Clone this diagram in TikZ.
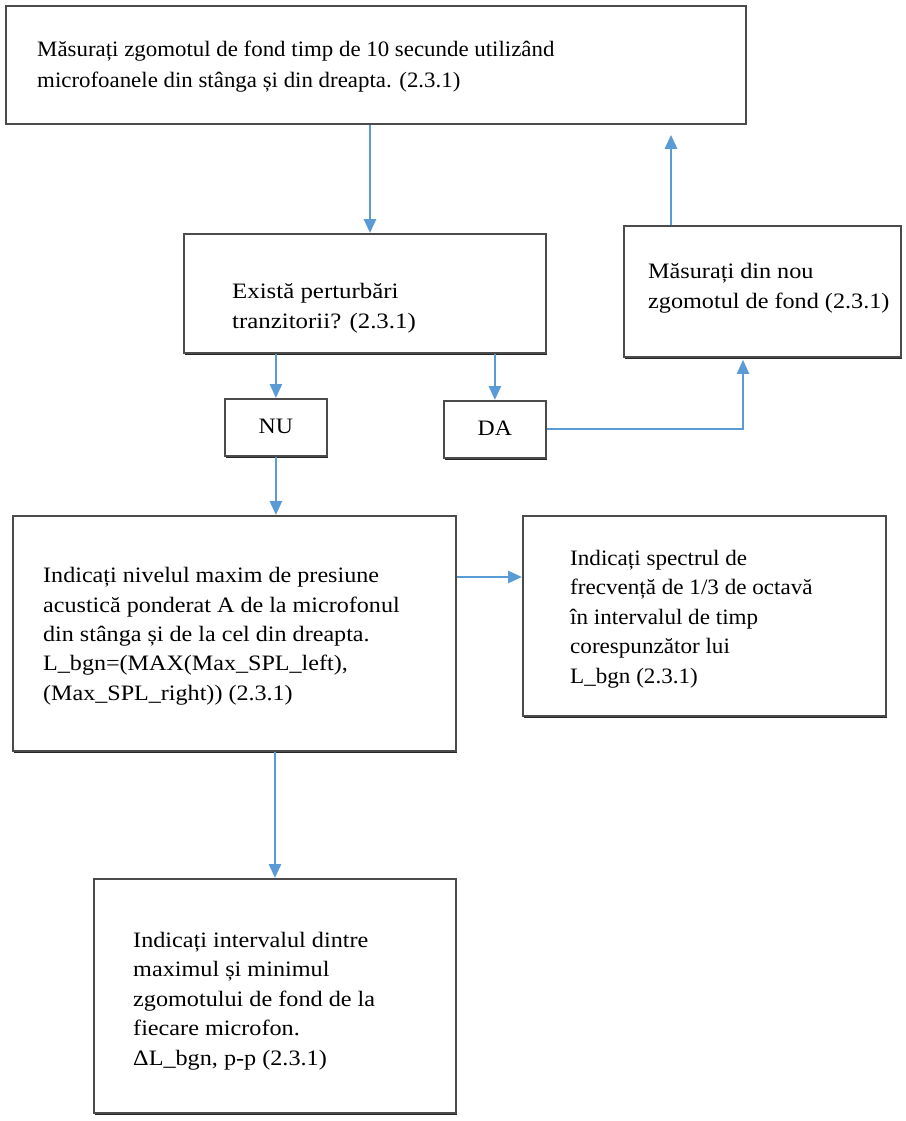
\documentclass[tikz,border=0pt]{standalone}
\usepackage{fontspec}
\setmainfont{Liberation Serif}
\usetikzlibrary{arrows.meta,shadows}
\definecolor{flowblue}{RGB}{91,155,213}
\definecolor{boxline}{RGB}{75,75,75}
\tikzset{
  box/.style={draw=boxline, line width=1.8pt, fill=white, inner sep=0pt, anchor=north west,
    drop shadow={shadow xshift=0.6pt, shadow yshift=-1.6pt, fill=black!85, opacity=1}},
  txt/.style={anchor=base west, align=left, inner sep=0pt},
  lbl/.style={inner sep=0pt, font=\fontsize{22}{25}\selectfont\addfontfeatures{FakeStretch=1.08}},
  flow/.style={draw=flowblue, line width=2.6pt, -{Triangle[length=14pt,width=12pt]}},
}
\newcommand{\fs}[2]{\fontsize{22}{#1}\selectfont\addfontfeatures{FakeStretch=#2}}
\begin{document}
\begin{tikzpicture}[x=1pt,y=-1pt]
\useasboundingbox (0,0) rectangle (905,1121);
\fill[white] (0,0) rectangle (905,1121);

% boxes
\node[box, minimum width=740pt, minimum height=118pt] (b1) at (5,5) {};
\node[box, minimum width=362pt, minimum height=119pt] (b2) at (183,233) {};
\node[box, minimum width=277pt, minimum height=131pt] (b3) at (623,225) {};
\node[box, minimum width=102pt, minimum height=57pt] (nu) at (224,398) {};
\node[box, minimum width=102pt, minimum height=57pt] (da) at (443,400) {};
\node[box, minimum width=443pt, minimum height=235pt] (b4) at (12,515) {};
\node[box, minimum width=363pt, minimum height=200pt] (b5) at (522,515) {};
\node[box, minimum width=362pt, minimum height=234pt] (b6) at (93,878) {};

% texts (anchor = baseline of last line)
\node[txt, font=\fs{31}{1.04}] (t1) at (37,88) {Măsurați zgomotul de fond timp de 10 secunde utilizând\\microfoanele din stânga și din dreapta. (2.3.1)};
\node[txt, font=\fs{30}{1.13}] (t2) at (232,328) {Există perturbări\\tranzitorii? (2.3.1)};
\node[txt, font=\fs{30}{1.10}] (t3) at (648,308) {Măsurați din nou\\zgomotul de fond (2.3.1)};
\node[lbl] (tnu) at ([yshift=1pt]nu.center) {NU};
\node[lbl] (tda) at ([yshift=1pt]da.center) {DA};
\node[txt, font=\fs{29.3}{1.095}] (t4) at (43,700) {Indicați nivelul maxim de presiune\\acustică ponderat A de la microfonul\\din stânga și de la cel din dreapta.\\L\_bgn=(MAX(Max\_SPL\_left),\\(Max\_SPL\_right)) (2.3.1)};
\node[txt, font=\fs{29.5}{1.05}] (t5) at (570,683) {Indicați spectrul de\\frecvență de 1/3 de octavă\\în intervalul de timp\\corespunzător lui\\L\_bgn (2.3.1)};
\node[txt, font=\fs{29.5}{1.10}] (t6) at (133,1065) {Indicați intervalul dintre\\maximul și minimul\\zgomotului de fond de la\\fiecare microfon.\\ΔL\_bgn, p-p (2.3.1)};

% helper coordinates
\coordinate (x370) at (370,0);
\coordinate (x743) at (743,0);
\coordinate (x671) at (671,0);
\coordinate (x275) at (275,0);
\coordinate (y577) at (0,577);

% connectors
\draw[flow] (b1.south -| x370) -- (b2.north -| x370);
\draw[flow] (b2.south -| nu.north) -- (nu.north);
\draw[flow] (b2.south -| da.north) -- (da.north);
\draw[flow, line width=2pt] (da.east) -| ([yshift=-2pt]b3.south -| x743);
\draw[flow] (b3.north -| x671) -- ([yshift=-10pt]b1.south -| x671);
\draw[flow] (nu.south) -- (b4.north -| nu.south);
\draw[flow] (b4.east |- y577) -- (b5.west |- y577);
\draw[flow] (b4.south -| x275) -- (b6.north -| x275);
\end{tikzpicture}
\end{document}
